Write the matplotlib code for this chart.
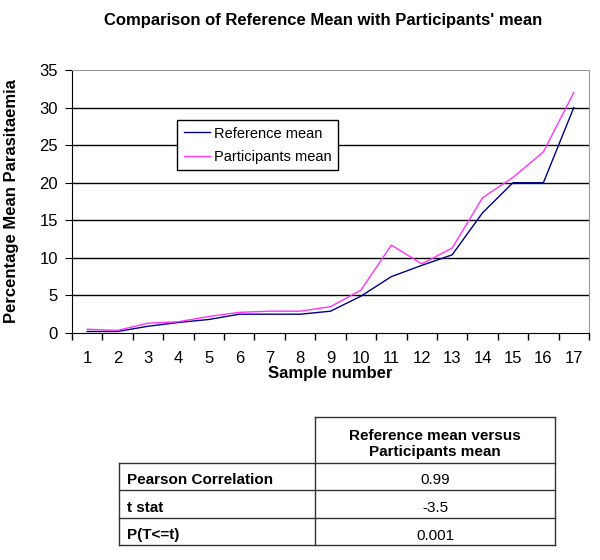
import numpy as np
import matplotlib.pyplot as plt
from matplotlib.lines import Line2D

plt.rcParams['font.family'] = ['Liberation Sans', 'DejaVu Sans']

samples = list(range(1, 18))
reference_mean = [0.2, 0.2, 0.9, 1.4, 1.8, 2.5, 2.5, 2.5, 2.9, 4.9, 7.5, 9.0, 10.4, 16.0, 20.0, 20.0, 30.0]
participants_mean = [0.5, 0.35, 1.3, 1.5, 2.2, 2.75, 2.9, 2.9, 3.5, 5.7, 11.7, 9.2, 11.3, 18.0, 20.7, 24.1, 32.0]

table_header = "Reference mean versus\nParticipants mean"
row_labels = ["Pearson Correlation", "t stat", "P(T<=t)"]
row_values = ["0.99", "-3.5", "0.001"]

fig = plt.figure(figsize=(6, 5.6), dpi=100)
W, H = 600, 560
ax = fig.add_axes([72 / W, 1 - 333 / H, (589 - 72) / W, (333 - 70) / H])

x = np.arange(len(samples))
ax.plot(x, reference_mean, color='#000088', lw=1, label='Reference mean')
ax.plot(x, participants_mean, color='#ff33ff', lw=1, label='Participants mean')

ax.set_xlim(-0.5, len(samples) - 0.5)
ax.set_ylim(0, 35)
ax.set_yticks(range(0, 36, 5))
ax.set_xticks(x)
ax.set_xticklabels(samples, fontsize=12)
ax.set_xticks(np.arange(-0.5, len(samples), 1), minor=True)
ax.tick_params(axis='x', which='major', length=0, pad=13)
ax.tick_params(axis='x', which='minor', length=5, direction='out', width=1)
ax.tick_params(axis='y', length=5, direction='out', labelsize=12, pad=5)
for y in range(5, 35, 5):
    ax.axhline(y, color='black', lw=1, zorder=0)
for s in ['top', 'right']:
    ax.spines[s].set_color('#999999')
for s in ['left', 'bottom']:
    ax.spines[s].set_color('black')

ax.set_xlabel('Sample number', fontsize=12, fontweight='bold')
ax.xaxis.set_label_coords(0.5, -(366 - 333) / 263)
ax.set_ylabel('Percentage Mean Parasitaemia', fontsize=12, fontweight='bold')
ax.yaxis.set_label_coords(-(72 - 19) / 517, 0.5)

leg = ax.legend(loc='upper left', bbox_to_anchor=((177 - 72) / 517, 1 - (120 - 70) / 263),
                fontsize=10.5, frameon=True, fancybox=False, framealpha=1,
                edgecolor='black', borderpad=0.45, handlelength=1.8, handletextpad=0.3,
                labelspacing=0.62, borderaxespad=0)
leg.get_frame().set_linewidth(1)

fig.text(323 / W, 1 - 20 / H, "Comparison of Reference Mean with Participants' mean",
         ha='center', va='center', fontsize=12, fontweight='bold')

# table drawn in figure pixel coordinates
def fx(px):
    return px / W

def fy(py):
    return 1 - py / H

lines_kw = dict(color='#333333', lw=1, transform=fig.transFigure)
x0, x1, x2 = 119, 315, 555
ys = [417, 463, 490, 518, 545]
fig.add_artist(Line2D([fx(x1), fx(x2)], [fy(ys[0])] * 2, **lines_kw))
for yy in ys[1:]:
    fig.add_artist(Line2D([fx(x0), fx(x2)], [fy(yy)] * 2, **lines_kw))
fig.add_artist(Line2D([fx(x0)] * 2, [fy(ys[1]), fy(ys[-1])], **lines_kw))
fig.add_artist(Line2D([fx(x1)] * 2, [fy(ys[0]), fy(ys[-1])], **lines_kw))
fig.add_artist(Line2D([fx(x2)] * 2, [fy(ys[0]), fy(ys[-1])], **lines_kw))

fig.text(fx((x1 + x2) / 2), fy(444), table_header, ha='center', va='center',
         fontsize=11, fontweight='bold', linespacing=1.1)
for i, (lab, val) in enumerate(zip(row_labels, row_values)):
    yc = fy((ys[i + 1] + ys[i + 2]) / 2 + 4)
    fig.text(fx(x0 + 8), yc, lab, ha='left', va='center', fontsize=11, fontweight='bold')
    fig.text(fx((x1 + x2) / 2), yc, val, ha='center', va='center', fontsize=11)

fig.savefig('out.png', dpi=100, facecolor='white')
